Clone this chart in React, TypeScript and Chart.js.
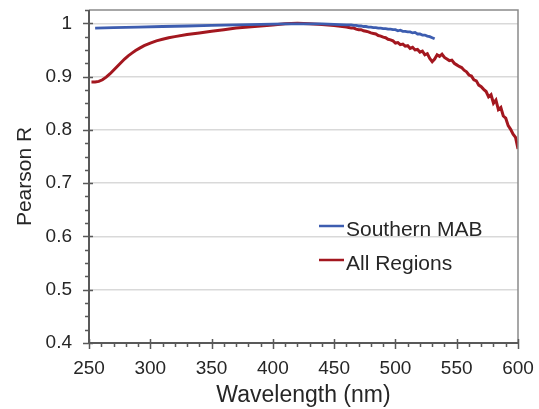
import React, { useEffect, useRef } from "react";
import { Chart, registerables } from "chart.js";

Chart.register(...registerables);

// ---- Data ----
const southernWl = [
  255, 270, 290, 310, 330, 350, 370, 390, 410, 425, 440, 450, 460,
  462, 464, 466, 468, 470, 472, 474, 476, 478, 480, 482, 484,
  486, 488, 490, 492, 494, 496, 498, 500, 502, 504, 506, 508, 510,
  512, 514, 516, 518, 520, 522, 524, 526, 528, 530, 532,
];
const southernR = [
  0.991, 0.992, 0.993, 0.994, 0.995, 0.996, 0.997, 0.998, 0.999, 0.999, 0.999, 0.998, 0.997,
  0.997, 0.997, 0.996, 0.996, 0.995, 0.995, 0.994, 0.994, 0.993, 0.993, 0.992, 0.992,
  0.991, 0.991, 0.990, 0.990, 0.989, 0.989, 0.988, 0.988, 0.986, 0.987, 0.985, 0.985, 0.984,
  0.984, 0.982, 0.983, 0.980, 0.980, 0.978, 0.978, 0.976, 0.975, 0.973, 0.971,
];

const allWl = [
  252, 255, 258, 261, 264, 267, 270, 273, 276, 279, 282, 285, 288, 291, 295,
  300, 305, 310, 315, 320, 330, 340, 350, 360, 370, 380, 390, 400, 410, 420,
  430, 440, 450, 460,
  462, 464, 466, 468, 470, 472, 474, 476, 478, 480, 482, 484, 486, 488, 490,
  492, 494, 496, 498, 500, 502, 504, 506, 508, 510, 512, 514, 516, 518, 520,
  522, 524, 526, 528, 530, 532, 534, 536, 538, 540, 542, 544, 546, 548, 550,
  552, 554, 556, 558, 560, 562, 564, 566, 568, 570, 572, 574, 576, 578, 580,
  582, 584, 586, 588, 590, 592, 594, 596, 598, 600,
];
const allR = [
  0.890, 0.890, 0.891, 0.894, 0.899, 0.905, 0.912, 0.919, 0.926, 0.933, 0.939, 0.944, 0.949, 0.953, 0.958,
  0.963, 0.967, 0.970, 0.973, 0.975, 0.979, 0.982, 0.985, 0.988, 0.991, 0.993, 0.995, 0.997, 0.999, 1.000,
  0.999, 0.998, 0.996, 0.993,
  0.992, 0.991, 0.991, 0.989, 0.988, 0.988, 0.986, 0.985, 0.984, 0.982, 0.981, 0.980, 0.977, 0.976, 0.974,
  0.973, 0.970, 0.969, 0.967, 0.963, 0.964, 0.960, 0.961, 0.957, 0.958, 0.953, 0.955, 0.950, 0.951, 0.946,
  0.948, 0.941, 0.943, 0.934, 0.928, 0.933, 0.941, 0.938, 0.942, 0.936, 0.933, 0.930, 0.931, 0.925, 0.922,
  0.919, 0.917, 0.912, 0.909, 0.903, 0.901, 0.894, 0.892, 0.884, 0.881, 0.876, 0.872, 0.862, 0.866, 0.850,
  0.856, 0.838, 0.842, 0.826, 0.822, 0.808, 0.801, 0.792, 0.786, 0.764,
];

const seriesLabels = ["Southern MAB", "All Regions"];
const seriesColors = ["#3D5DB0", "#A3171F"];

const xMajorTicks = [250, 300, 350, 400, 450, 500, 550, 600];
const yMajorTicks = [0.4, 0.5, 0.6, 0.7, 0.8, 0.9, 1.0];
const X_MIN = 250, X_MAX = 600, X_MINOR = 10;
const Y_MIN = 0.4, Y_MAX = 1.025, Y_MINOR = 0.025;

const FONT = "'Liberation Sans', Arial, sans-serif";
const TEXT = "#262626";

const isMajor = (v: number, list: number[]) => list.some((m) => Math.abs(m - v) < 1e-6);

const decorPlugin = {
  id: "decor",
  afterDraw(chart: any) {
    const { ctx, chartArea } = chart;
    const { left, right, top, bottom } = chartArea;
    const xs = chart.scales.x;
    const ys = chart.scales.y;
    ctx.save();
    ctx.strokeStyle = "#8a8a8a";
    ctx.lineWidth = 1.5;
    ctx.beginPath();
    ctx.moveTo(left, top);
    ctx.lineTo(right, top);
    ctx.lineTo(right, bottom);
    ctx.stroke();
    ctx.strokeStyle = "#595959";
    ctx.lineWidth = 2;
    ctx.beginPath();
    ctx.moveTo(left, top);
    ctx.lineTo(left, bottom);
    ctx.lineTo(right, bottom);
    ctx.stroke();
    ctx.lineWidth = 1.5;
    ctx.beginPath();
    ys.ticks.forEach((t: any) => {
      const py = Math.round(ys.getPixelForValue(t.value)) + 0.5;
      if (isMajor(t.value, yMajorTicks)) {
        ctx.moveTo(left - 6, py);
        ctx.lineTo(left + 4, py);
      } else {
        ctx.moveTo(left - 4, py);
        ctx.lineTo(left, py);
      }
    });
    xs.ticks.forEach((t: any) => {
      const px = Math.round(xs.getPixelForValue(t.value)) + 0.5;
      if (isMajor(t.value, xMajorTicks)) {
        ctx.moveTo(px, bottom - 4);
        ctx.lineTo(px, bottom + 6);
      } else {
        ctx.moveTo(px, bottom);
        ctx.lineTo(px, bottom + 4);
      }
    });
    ctx.stroke();
    const lx = left + 230;
    const rows = [top + 216, top + 250];
    chart.data.datasets.forEach((ds: any, i: number) => {
      const y = rows[i];
      ctx.strokeStyle = ds.borderColor;
      ctx.lineWidth = 2.5;
      ctx.beginPath();
      ctx.moveTo(lx, y);
      ctx.lineTo(lx + 25, y);
      ctx.stroke();
      ctx.fillStyle = TEXT;
      ctx.font = `21px ${FONT}`;
      ctx.textBaseline = "middle";
      ctx.textAlign = "left";
      ctx.fillText(ds.label, lx + 27, y + 4);
    });
    ctx.restore();
  },
};

export default function App() {
  const ref = useRef<HTMLCanvasElement | null>(null);
  useEffect(() => {
    if (!ref.current) return;
    const chart = new Chart(ref.current, {
      type: "line",
      data: {
        datasets: [
          {
            label: seriesLabels[0],
            data: southernWl.map((x, i) => ({ x, y: southernR[i] })),
            borderColor: seriesColors[0],
            borderWidth: 2.8,
            pointRadius: 0,
            tension: 0,
          },
          {
            label: seriesLabels[1],
            data: allWl.map((x, i) => ({ x, y: allR[i] })),
            borderColor: seriesColors[1],
            borderWidth: 3,
            pointRadius: 0,
            tension: 0,
          },
        ],
      },
      options: {
        animation: false,
        responsive: false,
        maintainAspectRatio: false,
        layout: { padding: { top: 10, right: 21, left: 0, bottom: 0 } },
        plugins: { legend: { display: false }, tooltip: { enabled: false } },
        scales: {
          x: {
            type: "linear",
            min: X_MIN,
            max: X_MAX,
            afterBuildTicks: (s: any) => {
              const t = [];
              for (let v = X_MIN; v <= X_MAX + 1e-9; v += X_MINOR) t.push({ value: v });
              s.ticks = t;
            },
            afterFit: (s: any) => {
              s.height = 66;
              s.paddingLeft = 0;
              s.paddingRight = 0;
            },
            grid: { display: false, drawTicks: false },
            border: { display: false },
            ticks: {
              autoSkip: false,
              maxRotation: 0,
              padding: 14,
              color: TEXT,
              font: { family: FONT, size: 19 },
              callback: (v: any) => (isMajor(Number(v), xMajorTicks) ? String(Math.round(Number(v))) : ""),
            },
            title: {
              display: true,
              text: "Wavelength (nm)",
              color: TEXT,
              font: { family: FONT, size: 23 },
              padding: { top: 0, bottom: 0 },
            },
          },
          y: {
            type: "linear",
            min: Y_MIN,
            max: Y_MAX,
            afterBuildTicks: (s: any) => {
              const t = [];
              for (let i = 0; Y_MIN + i * Y_MINOR <= Y_MAX + 1e-9; i++) t.push({ value: +(Y_MIN + i * Y_MINOR).toFixed(3) });
              s.ticks = t;
            },
            afterFit: (s: any) => {
              s.width = 89;
              s.paddingTop = 0;
              s.paddingBottom = 0;
            },
            grid: {
              drawTicks: false,
              lineWidth: 1.5,
              color: (c: any) =>
                c.tick && isMajor(c.tick.value, yMajorTicks) && c.tick.value > Y_MIN + 1e-6 ? "#d9d9d9" : "rgba(0,0,0,0)",
            },
            border: { display: false },
            ticks: {
              autoSkip: false,
              padding: 17,
              color: TEXT,
              font: { family: FONT, size: 19 },
              callback: (v: any) => {
                const n = Number(v);
                if (!isMajor(n, yMajorTicks)) return "";
                return Math.abs(n - 1) < 1e-6 ? "1" : n.toFixed(1);
              },
            },
            title: {
              display: true,
              text: "Pearson R",
              color: TEXT,
              font: { family: FONT, size: 21 },
              padding: { top: 13, bottom: 0 },
            },
          },
        },
      },
      plugins: [decorPlugin],
    });
    return () => chart.destroy();
  }, []);
  return (
    <div style={{ position: "absolute", left: 0, top: 0, width: 539, height: 409, background: "#fff" }}>
      <canvas ref={ref} width={539} height={409} style={{ display: "block" }} />
    </div>
  );
}
